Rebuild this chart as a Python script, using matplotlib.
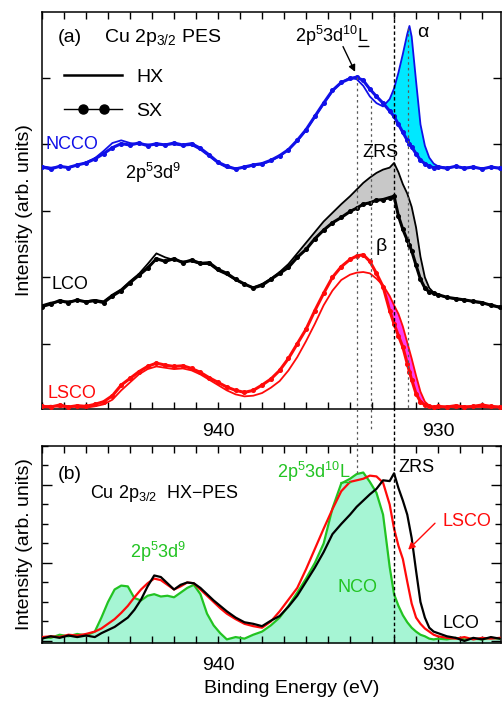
import numpy as np
import matplotlib
matplotlib.use("Agg")
import matplotlib.pyplot as plt
from matplotlib.ticker import MultipleLocator, NullFormatter
from matplotlib.lines import Line2D
from matplotlib.legend_handler import HandlerLine2D, HandlerTuple
import matplotlib.transforms as mtrans

plt.rcParams['font.family'] = ['Liberation Sans', 'DejaVu Sans']
plt.rcParams['mathtext.fontset'] = 'custom'
plt.rcParams['mathtext.rm'] = 'Liberation Sans'
plt.rcParams['mathtext.it'] = 'Liberation Sans:italic'

# ---------------- panel (a) data ----------------
E_a = [948.0, 947.6, 947.2, 946.8, 946.4, 946.0, 945.6, 945.2, 944.8, 944.4,
       944.0, 943.6, 943.2, 942.8, 942.4, 942.0, 941.6, 941.2, 940.8, 940.4,
       940.0, 939.6, 939.2, 938.8, 938.4, 938.0, 937.6, 937.2, 936.8, 936.4,
       936.0, 935.6, 935.2, 934.8, 934.4, 934.0, 933.7, 933.4, 933.1, 932.8,
       932.5, 932.2, 932.0, 931.8, 931.6, 931.4, 931.3, 931.2, 931.0, 930.8,
       930.6, 930.4, 930.2, 930.0, 929.6, 929.2, 928.8, 928.4, 928.0, 927.6,
       927.2]

ncco_sx = [3.66, 3.63, 3.67, 3.65, 3.69, 3.72, 3.78, 3.86, 3.95, 4.01,
           3.99, 4.02, 3.98, 4.01, 3.99, 4.02, 3.99, 4.01, 3.94, 3.84,
           3.73, 3.67, 3.63, 3.66, 3.69, 3.71, 3.76, 3.83, 3.92, 4.06,
           4.22, 4.42, 4.62, 4.81, 4.93, 4.99, 5.01, 4.96, 4.83, 4.72,
           4.62, 4.50, 4.42, 4.30, 4.18, 4.06, 4.01, 3.96, 3.86, 3.76,
           3.71, 3.67, 3.65, 3.66, 3.64, 3.67, 3.64, 3.66, 3.63, 3.66,
           3.64]
ncco_hx = [3.67, 3.65, 3.66, 3.66, 3.68, 3.73, 3.79, 3.90, 4.02, 4.06,
           4.02, 4.00, 4.00, 3.99, 4.00, 4.00, 3.98, 3.99, 3.92, 3.82,
           3.72, 3.65, 3.64, 3.65, 3.68, 3.70, 3.75, 3.82, 3.92, 4.05,
           4.21, 4.41, 4.61, 4.80, 4.93, 5.00, 4.98, 4.88, 4.72, 4.62,
           4.57, 4.68, 4.84, 5.08, 5.36, 5.66, 5.78, 5.62, 4.95, 4.30,
           3.98, 3.80, 3.71, 3.67, 3.65, 3.66, 3.65, 3.65, 3.64, 3.65,
           3.65]

lco_sx = [1.56, 1.60, 1.65, 1.62, 1.66, 1.63, 1.65, 1.62, 1.72, 1.80,
          1.92, 2.03, 2.14, 2.28, 2.24, 2.28, 2.22, 2.26, 2.21, 2.22,
          2.12, 2.06, 1.97, 1.90, 1.84, 1.88, 1.97, 2.06, 2.15, 2.30,
          2.42, 2.58, 2.71, 2.82, 2.90, 2.99, 3.04, 3.10, 3.12, 3.16,
          3.17, 3.20, 3.22, 2.92, 2.72, 2.56, 2.48, 2.40, 2.18, 1.97,
          1.84, 1.78, 1.76, 1.74, 1.70, 1.68, 1.66, 1.64, 1.62, 1.58,
          1.55]
lco_hx = [1.58, 1.62, 1.63, 1.64, 1.65, 1.64, 1.66, 1.64, 1.74, 1.82,
          1.94, 2.05, 2.20, 2.36, 2.30, 2.26, 2.24, 2.24, 2.20, 2.20,
          2.10, 2.04, 1.96, 1.89, 1.85, 1.90, 1.98, 2.08, 2.20, 2.36,
          2.52, 2.68, 2.84, 2.97, 3.10, 3.22, 3.32, 3.42, 3.50, 3.57,
          3.62, 3.65, 3.72, 3.58, 3.40, 3.26, 3.16, 3.06, 2.75, 2.31,
          2.00, 1.84, 1.77, 1.73, 1.70, 1.67, 1.66, 1.63, 1.61, 1.59,
          1.56]

lsco_sx = [0.06, 0.05, 0.08, 0.05, 0.07, 0.06, 0.09, 0.13, 0.22, 0.38,
           0.48, 0.58, 0.66, 0.71, 0.68, 0.66, 0.67, 0.63, 0.57, 0.49,
           0.42, 0.35, 0.30, 0.27, 0.30, 0.38, 0.47, 0.60, 0.78, 1.00,
           1.22, 1.50, 1.76, 2.00, 2.16, 2.27, 2.32, 2.34, 2.24, 2.06,
           1.86, 1.50, 1.30, 1.12, 0.95, 0.70, 0.58, 0.46, 0.25, 0.13,
           0.08, 0.06, 0.05, 0.06, 0.05, 0.07, 0.05, 0.06, 0.08, 0.06,
           0.05]
lsco_hx = [0.05, 0.07, 0.05, 0.06, 0.05, 0.04, 0.06, 0.09, 0.16, 0.30,
           0.42, 0.54, 0.62, 0.66, 0.64, 0.62, 0.63, 0.60, 0.54, 0.46,
           0.38, 0.30, 0.24, 0.21, 0.22, 0.26, 0.34, 0.44, 0.60, 0.80,
           1.04, 1.30, 1.58, 1.80, 1.96, 2.04, 2.07, 2.08, 2.06, 1.98,
           1.88, 1.72, 1.58, 1.45, 1.26, 1.02, 0.90, 0.78, 0.52, 0.28,
           0.13, 0.07, 0.05, 0.04, 0.06, 0.04, 0.06, 0.05, 0.05, 0.04,
           0.05]

# ---------------- panel (b) data ----------------
E_b = [948.0, 947.6, 947.2, 946.8, 946.4, 946.0, 945.6, 945.3, 945.0, 944.7,
       944.4, 944.1, 943.8, 943.5, 943.2, 942.9, 942.6, 942.3, 942.0, 941.7,
       941.4, 941.1, 940.8, 940.5, 940.2, 939.9, 939.6, 939.2, 938.8, 938.4,
       938.0, 937.6, 937.2, 936.8, 936.4, 936.0, 935.6, 935.2, 934.8, 934.4,
       934.0, 933.7, 933.4, 933.1, 932.8, 932.5, 932.2, 932.0, 931.8, 931.6,
       931.4, 931.2, 931.0, 930.8, 930.6, 930.4, 930.2, 930.0, 929.6, 929.2,
       928.8, 928.4, 928.0, 927.6, 927.2]
nco_b = [0.05, 0.04, 0.08, 0.06, 0.09, 0.07, 0.12, 0.30, 0.50, 0.66,
         0.71, 0.70, 0.55, 0.52, 0.58, 0.60, 0.57, 0.58, 0.56, 0.62,
         0.68, 0.72, 0.60, 0.35, 0.20, 0.10, 0.02, 0.05, 0.03, 0.08,
         0.12, 0.20, 0.30, 0.45, 0.62, 0.80, 1.00, 1.25, 1.70, 2.02,
         2.08, 2.14, 2.16, 2.04, 1.90, 1.62, 0.95, 0.60, 0.45, 0.33,
         0.24, 0.17, 0.12, 0.08, 0.06, 0.03, 0.02, 0.03, 0.02, 0.04,
         0.02, 0.03, 0.02, 0.04, 0.03]
lsco_b = [0.05, 0.06, 0.05, 0.08, 0.07, 0.09, 0.12, 0.16, 0.22, 0.28,
          0.36, 0.45, 0.56, 0.66, 0.74, 0.80, 0.78, 0.72, 0.66, 0.70,
          0.75, 0.74, 0.66, 0.58, 0.50, 0.42, 0.35, 0.28, 0.22, 0.19,
          0.17, 0.25, 0.38, 0.53, 0.68, 0.92, 1.18, 1.44, 1.69, 1.92,
          2.04, 2.06, 2.08, 2.12, 2.11, 2.03, 1.75, 1.44, 1.22, 1.05,
          0.76, 0.48, 0.30, 0.22, 0.16, 0.12, 0.08, 0.06, 0.04, 0.03,
          0.05, 0.02, 0.04, 0.03, 0.04]
lco_b = [0.03, 0.06, 0.04, 0.07, 0.05, 0.07, 0.05, 0.10, 0.14, 0.18,
         0.24, 0.30, 0.40, 0.53, 0.70, 0.84, 0.82, 0.74, 0.66, 0.72,
         0.75, 0.74, 0.68, 0.60, 0.52, 0.45, 0.38, 0.30, 0.24, 0.22,
         0.19, 0.26, 0.32, 0.44, 0.58, 0.76, 0.94, 1.14, 1.37, 1.50,
         1.62, 1.72, 1.80, 1.88, 1.95, 2.06, 2.05, 2.15, 1.96, 1.80,
         1.62, 1.32, 0.90, 0.50, 0.30, 0.17, 0.12, 0.10, 0.06, 0.04,
         0.00, 0.04, 0.02, 0.05, 0.03]

xtick_major = [940, 930]
vlines_E = [933.7, 933.06, 932.0, 931.36]

# ---------------- figure ----------------
W, H = 503, 702
fig = plt.figure(figsize=(W / 100, H / 100), dpi=100)
L, R = 42 / W, 501 / W
ax1 = fig.add_axes([L, 1 - 409 / H, R - L, (409 - 12) / H])
ax2 = fig.add_axes([L, 1 - 643 / H, R - L, (643 - 446) / H])

FS = 13
BLUE = '#1010e8'
RED = '#ff0a0a'
GREEN = '#22c322'

Ea = np.array(E_a)
Eb = np.array(E_b)

for ax in (ax1, ax2):
    ax.set_xlim(948.0, 927.14)
    ax.set_xticks(xtick_major)
    ax.xaxis.set_minor_locator(MultipleLocator(1))
    ax.tick_params(axis='both', which='both', direction='in', top=True, right=True,
                   labelsize=14, width=1.0)
    ax.tick_params(axis='x', which='both', length=5, pad=10)
    ax.yaxis.set_major_formatter(NullFormatter())
    for s in ax.spines.values():
        s.set_linewidth(1.1)

ax1.set_ylim(0.02, 5.99)
ax1.yaxis.set_major_locator(MultipleLocator(1))
ax1.tick_params(axis='y', which='major', length=6)

ax2.set_ylim(-0.026, 2.5)
ax2.yaxis.set_major_locator(MultipleLocator(1))
ax2.yaxis.set_minor_locator(MultipleLocator(0.25))
ax2.tick_params(axis='y', which='major', length=7)
ax2.tick_params(axis='y', which='minor', length=4)

# fills (a)
ax1.fill_between(Ea, ncco_sx, ncco_hx, where=(np.array(ncco_hx) > np.array(ncco_sx)) & (Ea < 932.6),
                 interpolate=True, color='#00e8ff', lw=0, zorder=1)
ax1.fill_between(Ea, lco_sx, lco_hx, where=(np.array(lco_hx) > np.array(lco_sx)) & (Ea < 937.0),
                 interpolate=True, color='#c8c8c8', lw=0, zorder=1)
ax1.fill_between(Ea, lsco_sx, lsco_hx, where=(np.array(lsco_hx) > np.array(lsco_sx)) & (Ea < 932.7),
                 interpolate=True, color='#ff3cf0', lw=0, zorder=1)

hx_kw = dict(lw=1.3, zorder=3)
sx_kw = dict(lw=2.2, marker='o', ms=2.6, zorder=3)
ax1.plot(Ea, ncco_hx, color=BLUE, **hx_kw)
ax1.plot(Ea, ncco_sx, color=BLUE, **sx_kw)
ax1.plot(Ea, lco_hx, color='k', **hx_kw)
ax1.plot(Ea, lco_sx, color='k', **sx_kw)
ax1.plot(Ea, lsco_hx, color=RED, **hx_kw)
ax1.plot(Ea, lsco_sx, color=RED, **sx_kw)

# legend (a)
h_hx = Line2D([], [], color='k', lw=1.8)
h_sx_line = Line2D([], [], color='k', lw=1.0)
h_sx_mk = Line2D([], [], color='k', ls='none', marker='o', ms=6.5)
leg = ax1.legend([h_hx, (h_sx_line, h_sx_mk)], ['HX', 'SX'],
                 handler_map={h_hx: HandlerLine2D(numpoints=1),
                              h_sx_line: HandlerLine2D(numpoints=1),
                              h_sx_mk: HandlerLine2D(numpoints=2, marker_pad=0.95),
                              tuple: HandlerTuple(ndivide=1, pad=0)},
                 loc='upper left', bbox_to_anchor=(0.048, 0.858), frameon=False,
                 fontsize=FS + 1, handlelength=3.0, handletextpad=0.7,
                 labelspacing=0.82, borderpad=0, borderaxespad=0)

# texts (a)
ax1.text(947.27, 5.54, '(a)', fontsize=FS + 1, va='baseline')
ax1.text(945.18, 5.54, 'Cu 2p$_{3/2}$ PES', fontsize=FS + 1, va='baseline')
ax1.text(947.82, 3.99, 'NCCO', fontsize=FS, color=BLUE, va='center')
ax1.text(944.23, 3.48, '2p$^5$3d$^9$', fontsize=FS, va='baseline')
tL1 = ax1.text(936.5, 5.54, '2p$^5$3d$^{10}$L', fontsize=FS, va='baseline')
ax1.annotate('', xy=(0.865, 0.06), xycoords=tL1, xytext=(1.0, 0.06), textcoords=tL1,
             arrowprops=dict(arrowstyle='-', lw=1.0, color='k', shrinkA=0, shrinkB=0))
ax1.annotate('', xy=(933.77, 5.09), xytext=(934.32, 5.47),
             arrowprops=dict(arrowstyle='-|>', lw=1.0, color='k', mutation_scale=10,
                             shrinkA=0, shrinkB=0))
ax1.text(930.95, 5.68, 'α', fontsize=FS + 1, va='center')
ax1.text(933.45, 3.87, 'ZRS', fontsize=FS, va='center')
ax1.text(947.55, 1.89, 'LCO', fontsize=FS, va='center')
ax1.text(947.77, 0.26, 'LSCO', fontsize=FS, color=RED, va='center')
ax1.text(932.86, 2.46, 'β', fontsize=FS + 1, va='center')

# panel (b)
ax2.fill_between(Eb, -0.026, nco_b, color='#a6f5d4', lw=0, zorder=1)
ax2.plot(Eb, nco_b, color=GREEN, lw=1.6, zorder=3)
ax2.plot(Eb, lsco_b, color=RED, lw=1.6, zorder=3)
ax2.plot(Eb, lco_b, color='k', lw=1.6, zorder=3)

ax2.text(947.27, 2.13, '(b)', fontsize=FS + 1, va='center')
ax2.text(945.82, 1.83, 'Cu 2p$_{3/2}$  HX\u2212PES', fontsize=FS, va='baseline')
ax2.text(944.0, 1.06, '2p$^5$3d$^9$', fontsize=FS, color=GREEN, va='baseline')
tL2 = ax2.text(937.32, 2.09, '2p$^5$3d$^{10}$L', fontsize=FS, color=GREEN, va='baseline')
ax2.annotate('', xy=(0.865, 0.06), xycoords=tL2, xytext=(1.0, 0.06), textcoords=tL2,
             arrowprops=dict(arrowstyle='-', lw=1.0, color=GREEN, shrinkA=0, shrinkB=0))
ax2.text(931.82, 2.23, 'ZRS', fontsize=FS, va='center')
ax2.text(929.82, 1.53, 'LSCO', fontsize=FS, color=RED, va='center')
ax2.annotate('', xy=(931.36, 1.17), xytext=(930.14, 1.51),
             arrowprops=dict(arrowstyle='-|>', lw=1.0, color=RED, mutation_scale=10,
                             shrinkA=0, shrinkB=0))
ax2.text(934.55, 0.69, 'NCO', fontsize=FS, color=GREEN, va='center')
ax2.text(929.82, 0.23, 'LCO', fontsize=FS, va='center')

ax1.set_ylabel('Intensity (arb. units)', fontsize=FS + 1)
ax1.yaxis.set_label_coords(-0.02, 0.5)
ax2.set_ylabel('Intensity (arb. units)', fontsize=FS + 1)
ax2.yaxis.set_label_coords(-0.02, 0.5)
ax2.set_xlabel('Binding Energy (eV)', fontsize=FS + 1)
ax2.xaxis.set_label_coords(0.545, -0.19)

# vertical guide lines spanning panels (figure pixel extents)
btr = mtrans.blended_transform_factory(ax1.transData, fig.transFigure)
spans = [(77, 473), (100, 430), (13, 643), (28, 410)]
styles = [dict(color='0.35', lw=0.9, ls=(0, (2, 2.5))),
          dict(color='0.35', lw=0.9, ls=(0, (2, 2.5))),
          dict(color='k', lw=1.0, ls=(0, (2.5, 1.8))),
          dict(color='0.35', lw=0.9, ls=(0, (2, 2.5)))]
for e, (y0, y1), st in zip(vlines_E, spans, styles):
    fig.add_artist(Line2D([e, e], [1 - y0 / H, 1 - y1 / H], transform=btr, zorder=5, **st))

fig.savefig('out.png', dpi=100)
